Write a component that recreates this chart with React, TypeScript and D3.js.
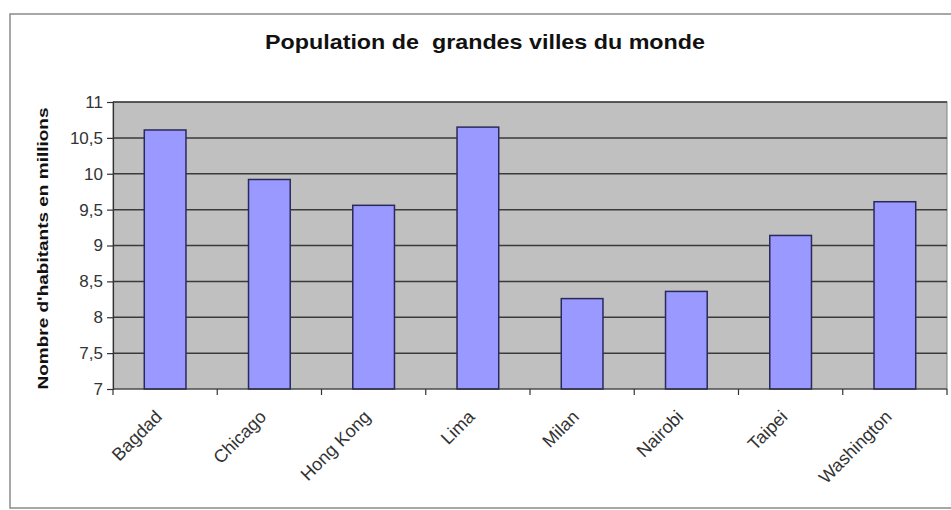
import React, { useEffect, useRef } from 'react';
import * as d3 from 'd3';

const cities = ['Bagdad', 'Chicago', 'Hong Kong', 'Lima', 'Milan', 'Nairobi', 'Taipei', 'Washington'];
const population = [10.61, 9.92, 9.56, 10.65, 8.26, 8.36, 9.14, 9.61];
const yTicks = [7, 7.5, 8, 8.5, 9, 9.5, 10, 10.5, 11];

const title = 'Population de  grandes villes du monde';
const yTitle = "Nombre d'habitants en millions";

export default function App() {
  const svgRef = useRef<SVGSVGElement>(null);

  useEffect(() => {
    if (!svgRef.current) return;
    const svg = d3.select(svgRef.current);
    svg.selectAll('*').remove();

    const W = 951;
    const H = 510;
    const plot = { left: 113, right: 947, top: 102, bottom: 389 };
    const font = 'Arial, "Liberation Sans", sans-serif';

    svg.append('rect').attr('width', W).attr('height', H).attr('fill', '#fff');

    // outer chart frame
    svg.append('rect')
      .attr('x', 10).attr('y', 14)
      .attr('width', W + 20).attr('height', 494)
      .attr('fill', 'none')
      .attr('stroke', '#8a8a8a')
      .attr('stroke-width', 1.5);

    const x = d3.scaleBand<string>()
      .domain(cities)
      .range([plot.left, plot.right])
      .paddingInner(0.6)
      .paddingOuter(0.3);

    const y = d3.scaleLinear()
      .domain([7, 11])
      .range([plot.bottom, plot.top]);

    // plot background
    svg.append('rect')
      .attr('x', plot.left).attr('y', plot.top)
      .attr('width', plot.right - plot.left)
      .attr('height', plot.bottom - plot.top)
      .attr('fill', '#c0c0c0')
      .attr('stroke', '#808080')
      .attr('stroke-width', 1);

    // gridlines
    svg.append('g')
      .selectAll('line')
      .data(yTicks.filter(t => t > 7))
      .join('line')
      .attr('x1', plot.left).attr('x2', plot.right)
      .attr('y1', d => y(d)).attr('y2', d => y(d))
      .attr('stroke', '#3a3a3a')
      .attr('stroke-width', 1.5);

    // bars
    svg.append('g')
      .selectAll('rect')
      .data(population)
      .join('rect')
      .attr('x', (d, i) => x(cities[i])!)
      .attr('width', x.bandwidth())
      .attr('y', d => y(d))
      .attr('height', d => plot.bottom - y(d))
      .attr('fill', '#9999ff')
      .attr('stroke', '#2a2a5a')
      .attr('stroke-width', 1.5);

    // y axis
    const yAxis = svg.append('g')
      .attr('transform', `translate(${plot.left},0)`)
      .call(d3.axisLeft(y).tickValues(yTicks).tickSize(6).tickPadding(4)
        .tickFormat(d => String(d).replace('.', ',')));
    yAxis.select('.domain').attr('stroke', '#333').attr('stroke-width', 1.2);
    yAxis.selectAll('.tick line').attr('stroke', '#333').attr('stroke-width', 1.2);
    yAxis.selectAll('.tick text')
      .attr('font-family', font)
      .attr('font-size', 17)
      .attr('fill', '#333');

    // x axis: ticks at category boundaries
    const step = x.step();
    const bounds = d3.range(cities.length + 1).map(i => plot.left + i * step);
    svg.append('line')
      .attr('x1', plot.left).attr('x2', plot.right)
      .attr('y1', plot.bottom).attr('y2', plot.bottom)
      .attr('stroke', '#333').attr('stroke-width', 1.2);
    svg.append('g')
      .selectAll('line')
      .data(bounds)
      .join('line')
      .attr('x1', d => d).attr('x2', d => d)
      .attr('y1', plot.bottom).attr('y2', plot.bottom + 6)
      .attr('stroke', '#333').attr('stroke-width', 1.2);

    svg.append('g')
      .selectAll('text')
      .data(cities)
      .join('text')
      .attr('transform', d => `translate(${x(d)! + x.bandwidth() / 2 - 2},${plot.bottom + 29}) rotate(-45)`)
      .attr('text-anchor', 'end')
      .attr('font-family', font)
      .attr('font-size', 18)
      .attr('fill', '#333')
      .text(d => d);

    // titles
    svg.append('text')
      .attr('x', 485).attr('y', 49)
      .attr('text-anchor', 'middle')
      .attr('font-family', font)
      .attr('font-weight', 'bold')
      .attr('font-size', 21)
      .attr('textLength', 440)
      .attr('lengthAdjust', 'spacingAndGlyphs')
      .attr('fill', '#111')
      .style('white-space', 'pre')
      .text(title);

    svg.append('text')
      .attr('transform', `translate(48,${(plot.top + plot.bottom) / 2 + 3}) rotate(-90)`)
      .attr('text-anchor', 'middle')
      .attr('font-family', font)
      .attr('font-weight', 'bold')
      .attr('font-size', 15)
      .attr('textLength', 282)
      .attr('lengthAdjust', 'spacingAndGlyphs')
      .attr('fill', '#111')
      .text(yTitle);
  }, []);

  return (
    <svg
      ref={svgRef}
      width={951}
      height={510}
      style={{ position: 'absolute', left: 0, top: 0 }}
    />
  );
}
